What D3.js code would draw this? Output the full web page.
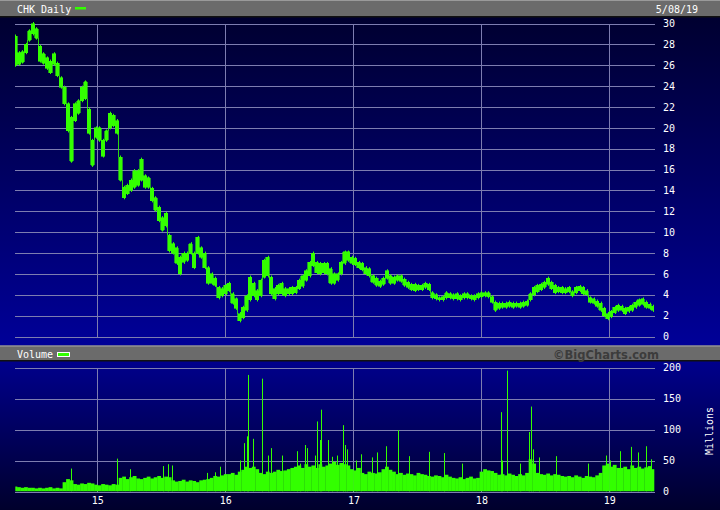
<!DOCTYPE html>
<html><head><meta charset="utf-8">
<script src="https://cdn.jsdelivr.net/npm/d3@7"></script>
<style>
body{margin:0;background:#000;}
svg{display:block;}
text{font-family:"DejaVu Sans Mono",monospace;}
</style>
</head><body><svg id="c" width="720" height="510"></svg>
<script>
// ---------- DATA ----------
const title = "CHK Daily";
const asOf = "5/08/19";
const startDate = "2014-05-12";   // first sample
const endDate = "2019-05-08";     // last trading day shown
const stepDays = 10;              // sample spacing of the arrays below
const yearTicks = ["2015-01-01","2016-01-01","2017-01-01","2018-01-01","2019-01-01"];
const priceTicks = [0,2,4,6,8,10,12,14,16,18,20,22,24,26,28,30];
const volumeTicks = [0,50,100,150,200];

const priceHi = [28.8,27.2,27.3,28.0,29.3,30.0,29.5,27.8,27.1,26.7,
26.4,27.1,26.2,24.8,23.9,22.3,21.0,22.3,22.6,23.9,
24.4,21.8,18.8,20.0,20.0,18.8,19.7,21.4,21.2,20.7,
17.2,14.3,14.5,15.0,15.9,15.9,17.0,15.4,15.2,14.2,
13.3,12.4,11.4,11.8,9.7,8.9,8.5,7.6,8.0,8.0,
8.9,8.0,9.5,8.5,8.0,6.6,6.0,5.6,4.7,4.6,
4.9,5.1,4.1,3.6,2.2,2.8,3.9,5.7,5.1,4.4,
5.4,7.3,7.6,5.7,4.6,4.9,5.1,4.6,4.6,4.7,
4.7,5.4,5.8,6.3,7.1,8.0,7.1,7.0,7.0,7.0,
6.5,6.0,6.0,7.1,8.1,8.1,7.6,7.5,7.1,7.0,
6.6,6.5,5.8,5.6,5.3,5.6,6.3,5.8,5.7,5.8,
5.8,5.5,5.2,5.0,5.0,4.9,4.9,5.1,5.0,4.2,
4.0,3.7,3.8,4.2,4.1,4.0,4.1,3.9,4.1,4.1,
3.9,3.9,4.1,4.2,4.2,4.2,3.8,3.3,3.2,3.2,
3.2,3.3,3.2,3.2,3.2,3.3,3.4,4.1,4.7,4.9,
5.0,5.2,5.6,5.2,4.9,4.7,4.7,4.6,4.7,4.3,
4.7,4.8,4.7,4.4,3.7,3.6,3.4,3.2,2.7,2.2,
2.4,2.8,3.0,2.9,2.7,2.8,3.0,3.3,3.5,3.6,
3.3,3.1,2.9];

const priceLo = [26.0,26.1,26.3,27.2,28.4,29.0,28.6,26.4,26.2,25.7,
25.3,26.1,25.0,23.9,22.3,19.7,16.8,20.7,21.4,22.6,
22.8,19.5,16.4,19.1,18.8,17.3,18.8,20.0,20.2,19.5,
15.0,13.3,13.7,14.0,14.3,14.5,15.0,14.3,14.3,13.0,
12.1,11.1,10.2,10.6,8.2,8.0,7.0,6.0,7.1,7.3,
8.0,6.6,8.0,7.6,6.6,5.1,5.1,4.9,3.7,3.9,
4.1,4.4,3.2,2.7,1.5,1.8,2.5,3.5,3.9,3.5,
3.9,5.7,5.8,4.1,3.6,4.1,4.1,3.9,4.1,4.1,
4.2,4.6,4.8,5.4,5.8,6.8,6.1,6.0,6.1,6.0,
5.1,5.1,5.4,6.0,7.0,7.3,7.0,6.9,6.6,6.4,
6.0,5.8,5.2,4.9,4.8,5.0,5.6,5.1,5.1,5.4,
5.3,4.9,4.7,4.5,4.4,4.5,4.5,4.7,4.5,3.7,
3.6,3.5,3.5,3.7,3.7,3.6,3.6,3.5,3.7,3.7,
3.6,3.5,3.7,3.8,3.9,3.8,3.3,2.5,2.7,2.8,
2.8,2.9,2.8,2.9,2.8,2.9,3.0,3.5,4.0,4.3,
4.5,4.7,5.0,4.6,4.2,4.3,4.2,4.2,4.3,3.9,
4.2,4.4,4.1,4.0,3.3,3.2,2.9,2.5,2.0,1.7,
1.9,2.3,2.5,2.5,2.2,2.4,2.5,2.8,3.0,3.1,
2.8,2.7,2.5];

// typical volume level (millions) per sample period
const volumeBase = [8,7,6,7,6,6,
5,6,5,6,7,5,6,5,
15,20,18,
12,11,13,12,14,13,11,
10,12,11,10,12,11,
22,24,20,23,25,21,
20,22,24,21,23,25,22,24,23,
18,16,17,19,16,18,17,15,18,19,
20,22,25,24,26,28,
28,30,27,32,35,40,
38,40,36,
30,28,32,30,
32,35,33,34,36,38,
40,42,38,44,40,
42,38,44,40,42,
45,48,43,46,44,42,
36,34,38,
30,28,32,30,29,31,
36,40,35,32,
28,30,27,29,28,26,30,28,27,
25,24,26,25,23,27,24,
22,21,23,20,22,24,21,22,
32,36,34,33,30,
27,28,26,29,27,25,28,26,30,
52,45,
30,28,27,29,26,28,27,25,
24,25,23,26,24,22,25,24,23,26,30,
42,45,40,43,38,
38,40,36,42,38,40,37,39,41,36];

// single-day volume spikes (millions)
const spikeDates = ["2014-10-17","2015-02-26","2015-04-03","2015-07-07","2015-07-21","2015-08-03",
"2015-11-09","2015-12-04","2015-12-18","2016-02-11","2016-02-25","2016-03-03","2016-03-07",
"2016-03-21","2016-04-15","2016-05-02","2016-05-11","2016-06-10","2016-07-25","2016-08-02",
"2016-08-16","2016-08-22","2016-09-13","2016-09-19","2016-09-27","2016-09-30","2016-10-20",
"2016-11-01","2016-11-15","2016-12-01","2016-12-07","2016-12-13","2017-01-09",
"2017-01-23","2017-02-24","2017-03-08","2017-04-03","2017-05-08","2017-06-08","2017-08-04",
"2017-09-15","2017-11-06","2018-02-26","2018-02-28","2018-03-16","2018-04-20","2018-05-18",
"2018-05-22","2018-05-29","2018-06-14","2018-08-03","2018-10-31","2018-12-24","2019-01-02",
"2019-02-01","2019-03-05","2019-03-25","2019-04-15","2019-05-01"];
const spikeValues = [37,53,36,41,44,42,
30,31,40,50,78,89,188,
85,182,58,70,58,65,45,
75,70,58,113,83,132,83,
56,58,107,75,68,50,
60,55,63,73,99,57,64,
62,45,128,50,195,45,96,
137,68,55,57,45,58,50,
65,72,63,73,52];

// ---------- LAYOUT ----------
const W = 720, H = 510;
const L = 15.3, R = 653.8, gridR = 655;
const pTop = 23.5, pBot = 336.5;
const vTop = 367.5, vBot = 491.5;
const green = "#33ff00";
const gridColor = "#7d7db0";

const parse = d3.timeParse("%Y-%m-%d");
const t0 = parse(startDate), t1 = parse(endDate);
const dates = priceHi.map((_, i) => d3.timeDay.offset(t0, i * stepDays));
const price = dates.map((d, i) => ({date: d, hi: priceHi[i], lo: priceLo[i]}));
const vol = dates.map((d, i) => ({date: d, v: volumeBase[i]}));
const spikes = spikeDates.map((s, i) => ({date: parse(s), v: spikeValues[i]}));

const x = d3.scaleTime().domain([t0, t1]).range([L, R]);
const yP = d3.scaleLinear().domain([0, 30]).range([pBot, pTop]);
const yV = d3.scaleLinear().domain([0, 200]).range([vBot, vTop]);

const svg = d3.select("#c");
const defs = svg.append("defs");
const g1 = defs.append("linearGradient").attr("id","gp").attr("x1",0).attr("y1",0).attr("x2",0).attr("y2",1);
g1.append("stop").attr("offset","0%").attr("stop-color","rgb(0,0,48)");
g1.append("stop").attr("offset","100%").attr("stop-color","rgb(0,0,152)");
const g2 = defs.append("linearGradient").attr("id","gv").attr("x1",0).attr("y1",0).attr("x2",0).attr("y2",1);
g2.append("stop").attr("offset","0%").attr("stop-color","rgb(0,0,140)");
g2.append("stop").attr("offset","100%").attr("stop-color","rgb(0,0,44)");
defs.append("clipPath").attr("id","clipV").append("rect")
  .attr("x", L).attr("y", vTop - 5).attr("width", R - L + 0.5).attr("height", vBot - vTop + 5);

// backgrounds
svg.append("rect").attr("x",0).attr("y",17).attr("width",W).attr("height",329).attr("fill","url(#gp)");
svg.append("rect").attr("x",0).attr("y",361).attr("width",W).attr("height",H-361).attr("fill","url(#gv)");

// header bars
svg.append("rect").attr("x",0).attr("y",0).attr("width",W).attr("height",16).attr("fill","#6b6b6b");
svg.append("rect").attr("x",0).attr("y",0).attr("width",W).attr("height",1).attr("fill","#9a9a9a");
svg.append("rect").attr("x",0).attr("y",16).attr("width",W).attr("height",1.5).attr("fill","#111");
svg.append("rect").attr("x",0).attr("y",345.5).attr("width",W).attr("height",15).attr("fill","#6b6b6b");
svg.append("rect").attr("x",0).attr("y",345.5).attr("width",W).attr("height",1).attr("fill","#a8a8a8");
svg.append("rect").attr("x",0).attr("y",360).attr("width",W).attr("height",1.5).attr("fill","#111");

// header texts
svg.append("text").attr("x",17).attr("y",13).attr("fill","#fff").attr("font-size",10).text(title);
svg.append("rect").attr("x",75).attr("y",7).attr("width",11).attr("height",2.5).attr("fill",green);
svg.append("text").attr("x",698).attr("y",13).attr("text-anchor","end").attr("fill","#fff").attr("font-size",10).text(asOf);
svg.append("text").attr("x",17).attr("y",358).attr("fill","#fff").attr("font-size",10).text("Volume");
svg.append("rect").attr("x",57.5).attr("y",352.5).attr("width",12).attr("height",4).attr("fill",green).attr("stroke","#fff").attr("stroke-width",1);
svg.append("text").attr("x",659).attr("y",358.5).attr("text-anchor","end")
  .attr("fill","#3c3c3c").attr("font-size",11.5).attr("font-weight","bold")
  .style("font-family","'DejaVu Sans',Verdana,sans-serif").text("\u00a9BigCharts.com");

// ---------- GRID / AXES ----------
function styleAxis(sel, labels) {
  sel.select(".domain").remove();
  sel.selectAll(".tick line").attr("stroke", gridColor).attr("shape-rendering","crispEdges");
  sel.selectAll(".tick text").attr("fill","#fff").style("font-family","'DejaVu Sans Mono',monospace").attr("font-size",10);
  if (!labels) sel.selectAll(".tick text").remove();
}
const yearDates = yearTicks.map(parse);
svg.append("g").attr("transform",`translate(0,${pBot})`)
  .call(d3.axisBottom(x).tickValues(yearDates).tickSize(-(pBot - pTop)).tickFormat(""))
  .call(s => styleAxis(s, false));
svg.append("g").attr("transform",`translate(${gridR},0)`)
  .call(d3.axisRight(yP).tickValues(priceTicks).tickSize(-(gridR - L)).tickPadding(8).tickFormat(d3.format("d")))
  .call(s => styleAxis(s, true));
svg.append("g").attr("transform",`translate(${gridR},0)`)
  .call(d3.axisRight(yV).tickValues(volumeTicks).tickSize(-(gridR - L)).tickPadding(8).tickFormat(d3.format("d")))
  .call(s => styleAxis(s, true));
svg.append("g").attr("transform",`translate(0,${vBot})`)
  .call(d3.axisBottom(x).tickValues(yearDates).tickSize(-(vBot - vTop)).tickPadding(5).tickFormat(d3.timeFormat("%y")))
  .call(s => styleAxis(s, true));

svg.append("text").attr("transform","translate(710,431) rotate(-90)").attr("text-anchor","middle")
  .attr("dominant-baseline","middle").attr("fill","#fff").attr("font-size",10).text("Millions");

// ---------- PRICE (daily high-low band) ----------
const area = d3.area().curve(d3.curveStep).x(d => x(d.date)).y0(d => yP(d.lo)).y1(d => yP(d.hi));
svg.append("path").datum(price).attr("d", area).attr("fill", green)
  .attr("stroke", green).attr("stroke-width", 0.6).attr("shape-rendering","crispEdges");
svg.append("g").selectAll("line").data(price).join("line")
  .attr("x1", d => Math.round(x(d.date)) + 0.5).attr("x2", d => Math.round(x(d.date)) + 0.5)
  .attr("y1", d => yP(d.hi) - 1.5).attr("y2", d => yP(d.lo) + 1.5)
  .attr("stroke", green).attr("stroke-width", 1);

// ---------- VOLUME ----------
const vg = svg.append("g").attr("clip-path","url(#clipV)");
const bw = x(dates[1]) - x(dates[0]);
vg.selectAll("rect.vb").data(vol).join("rect").attr("class","vb")
  .attr("x", d => x(d.date) - bw / 2).attr("width", bw + 0.3)
  .attr("y", d => yV(d.v)).attr("height", d => yV(0) - yV(d.v))
  .attr("fill", green);
vg.selectAll("rect.sp").data(spikes).join("rect").attr("class","sp")
  .attr("x", d => Math.round(x(d.date))).attr("width", 1)
  .attr("y", d => yV(d.v)).attr("height", d => yV(0) - yV(d.v))
  .attr("fill", green);
</script></body></html>
